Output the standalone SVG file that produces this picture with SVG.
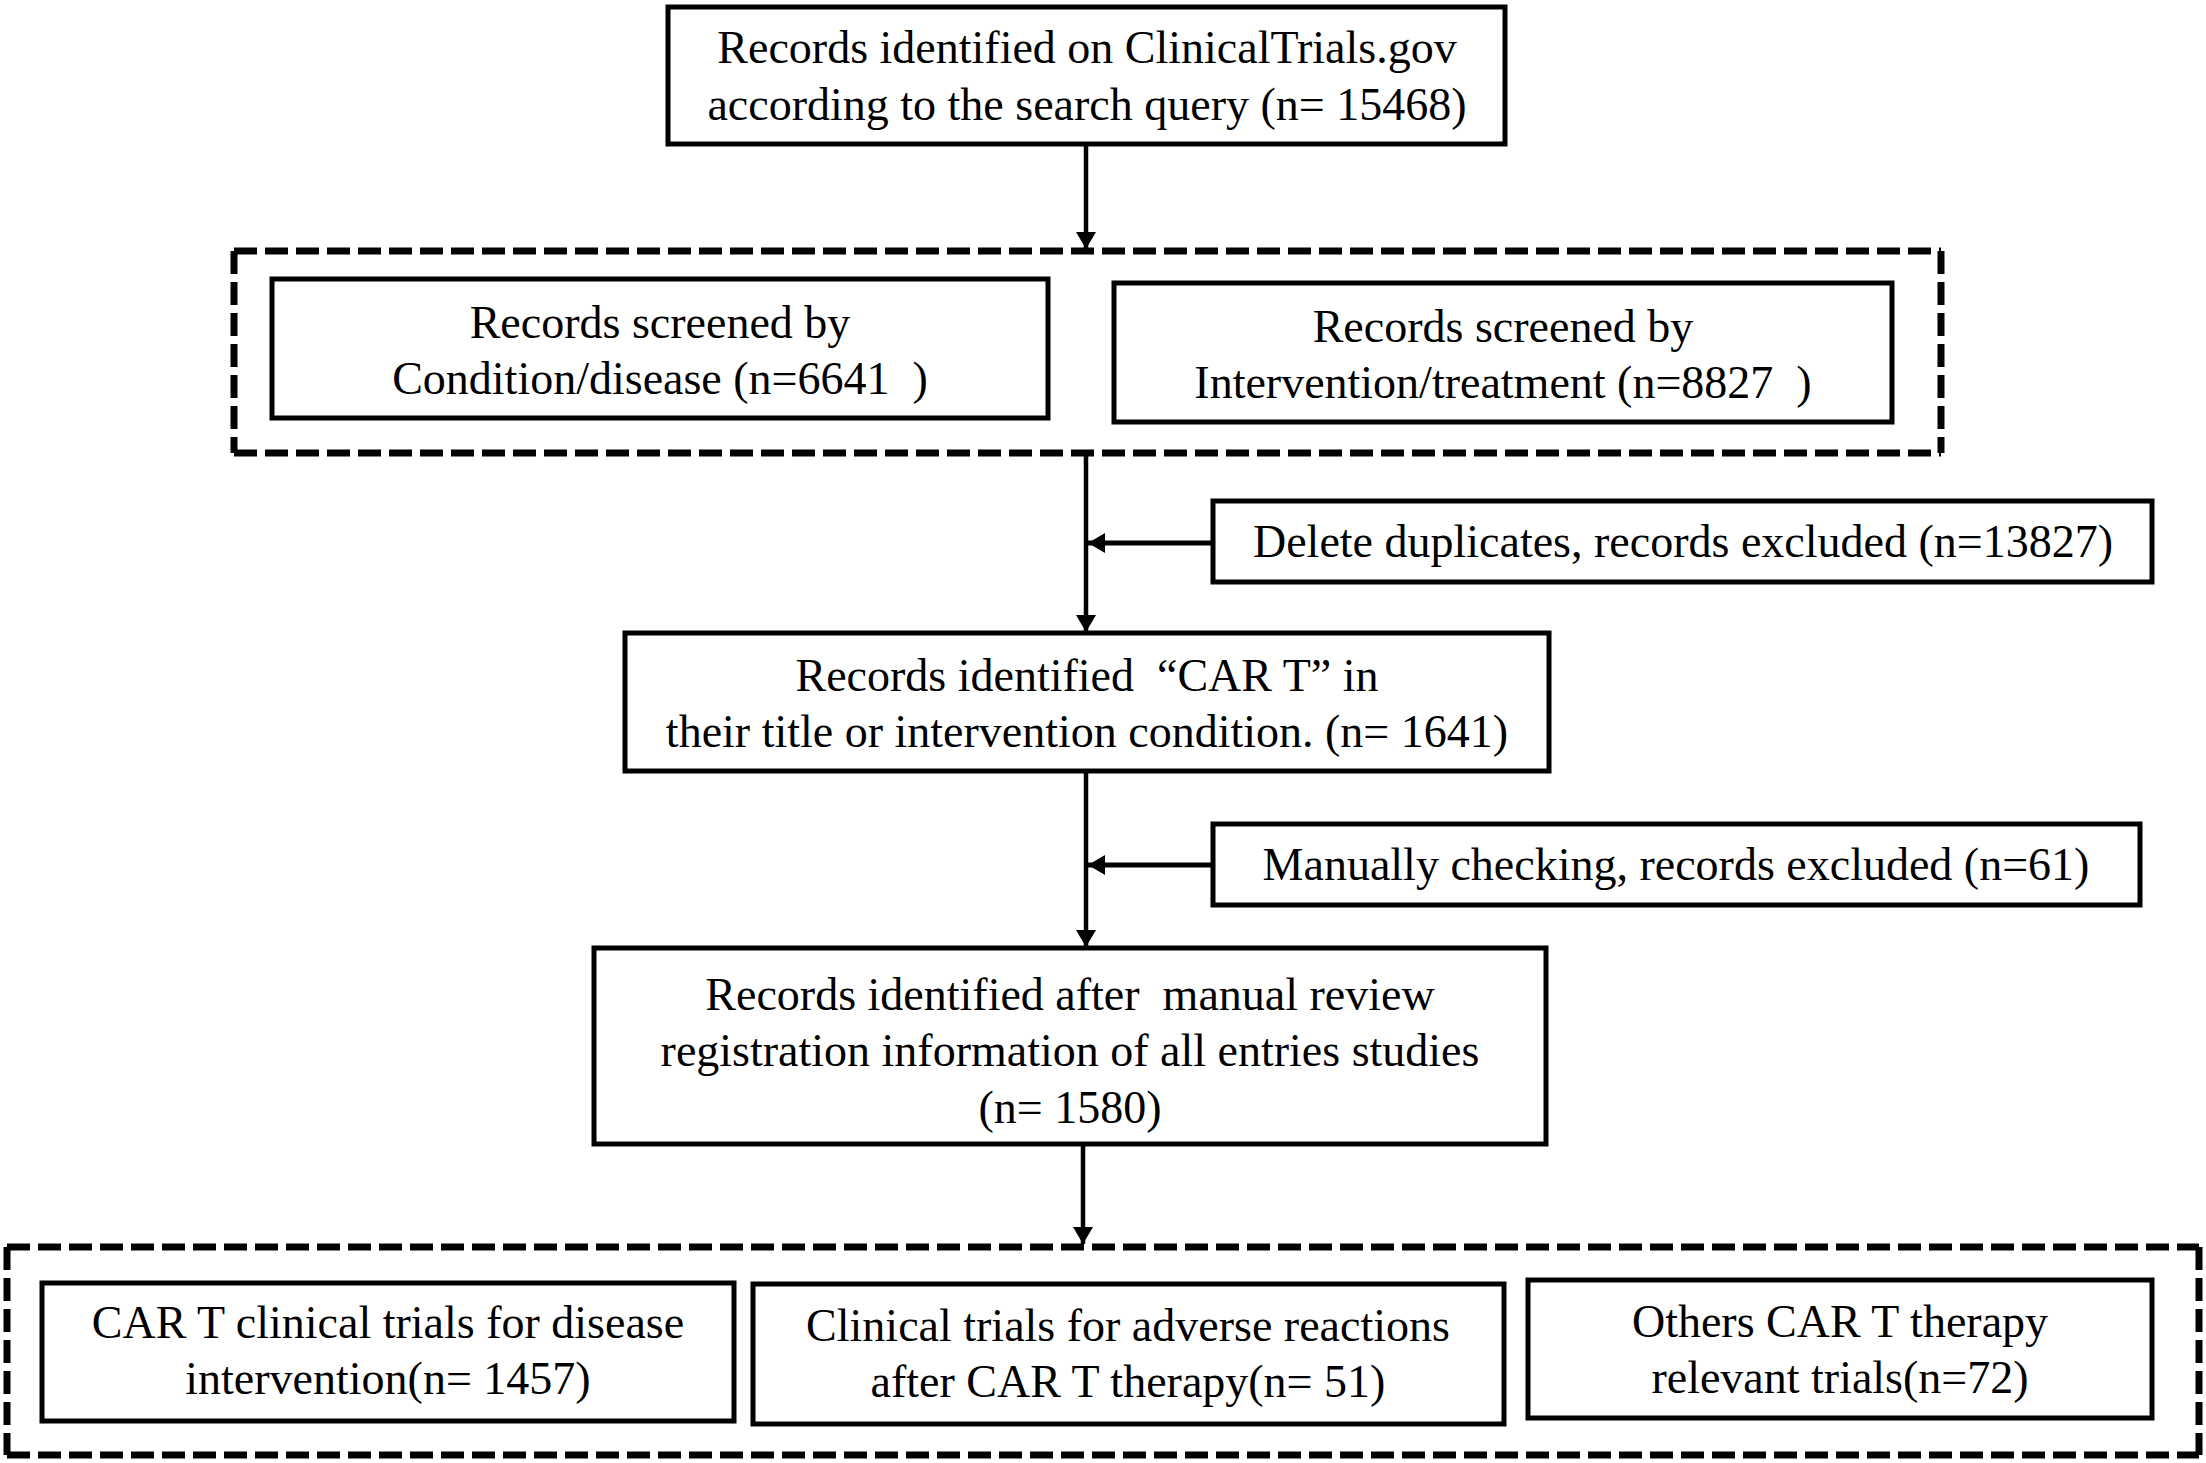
<svg xmlns="http://www.w3.org/2000/svg" width="2206" height="1463" viewBox="0 0 2206 1463">
<style>
.box{fill:#fff;stroke:#000;stroke-width:5}
.t{font-family:"Liberation Serif","Times New Roman",serif;font-size:46px;fill:#000;text-anchor:middle}
.c{fill:none;stroke:#000;stroke-width:4.5}
.ch{fill:none;stroke:#000;stroke-width:5}
.dh{stroke:#000;stroke-width:7;stroke-dasharray:23 8;fill:none}
.dv{stroke:#000;stroke-width:7;stroke-dasharray:23 8;fill:none}
</style>
<defs>
<marker id="ah" markerUnits="userSpaceOnUse" markerWidth="20" markerHeight="22" refX="17" refY="10" orient="auto">
<path d="M0,0 L17,10 L0,20 z" fill="#000"/>
</marker>
</defs>
<rect width="2206" height="1463" fill="#fff"/>
<g id="group1">
<line class="dh" x1="234" y1="251" x2="1941" y2="251"/>
<line class="dh" x1="234" y1="453" x2="1941" y2="453"/>
<line class="dv" x1="234" y1="251" x2="234" y2="453"/>
<line class="dv" x1="1941" y1="251" x2="1941" y2="453"/>
</g>
<g id="group2">
<line class="dh" x1="7" y1="1247" x2="2199" y2="1247"/>
<line class="dh" x1="7" y1="1455" x2="2199" y2="1455"/>
<line class="dv" x1="7" y1="1247" x2="7" y2="1455"/>
<line class="dv" x1="2199" y1="1247" x2="2199" y2="1455"/>
</g>
<g id="connectors">
<path class="c" d="M1086,144 V249" marker-end="url(#ah)"/>
<path class="c" d="M1086,456 V632" marker-end="url(#ah)"/>
<path class="ch" d="M1213,543 H1088" marker-end="url(#ah)"/>
<path class="c" d="M1086,771 V947" marker-end="url(#ah)"/>
<path class="ch" d="M1213,865 H1088" marker-end="url(#ah)"/>
<path class="c" d="M1083,1144 V1244" marker-end="url(#ah)"/>
</g>
<g id="n-search">
<rect class="box" x="668" y="7" width="837" height="137"/>
<text class="t" x="1087" y="63">Records identified on ClinicalTrials.gov</text>
<text class="t" x="1087" y="120">according to the search query (n= 15468)</text>
</g>
<g id="n-condition">
<rect class="box" x="272" y="279" width="776" height="139"/>
<text class="t" x="660" y="338">Records screened by</text>
<text class="t" x="660" y="394">Condition/disease (n=6641&#160; )</text>
</g>
<g id="n-intervention">
<rect class="box" x="1114" y="283" width="778" height="139"/>
<text class="t" x="1503" y="342">Records screened by</text>
<text class="t" x="1503" y="398">Intervention/treatment (n=8827&#160; )</text>
</g>
<g id="n-duplicates">
<rect class="box" x="1213" y="501" width="939" height="81"/>
<text class="t" x="1683" y="557">Delete duplicates, records excluded (n=13827)</text>
</g>
<g id="n-cart">
<rect class="box" x="625" y="633" width="924" height="138"/>
<text class="t" x="1087" y="691">Records identified&#160; “CAR T” in</text>
<text class="t" x="1087" y="747">their title or intervention condition. (n= 1641)</text>
</g>
<g id="n-manual">
<rect class="box" x="1213" y="824" width="927" height="81"/>
<text class="t" x="1676" y="880">Manually checking, records excluded (n=61)</text>
</g>
<g id="n-review">
<rect class="box" x="594" y="948" width="952" height="196"/>
<text class="t" x="1070" y="1010">Records identified after&#160; manual review</text>
<text class="t" x="1070" y="1066">registration information of all entries studies</text>
<text class="t" x="1070" y="1123">(n= 1580)</text>
</g>
<g id="n-disease">
<rect class="box" x="42" y="1283" width="692" height="138"/>
<text class="t" x="388" y="1338">CAR T clinical trials for disease</text>
<text class="t" x="388" y="1394">intervention(n= 1457)</text>
</g>
<g id="n-adverse">
<rect class="box" x="753" y="1284" width="751" height="140"/>
<text class="t" x="1128" y="1341">Clinical trials for adverse reactions</text>
<text class="t" x="1128" y="1397">after CAR T therapy(n= 51)</text>
</g>
<g id="n-others">
<rect class="box" x="1528" y="1280" width="624" height="138"/>
<text class="t" x="1840" y="1337">Others CAR T therapy</text>
<text class="t" x="1840" y="1393">relevant trials(n=72)</text>
</g>
</svg>
